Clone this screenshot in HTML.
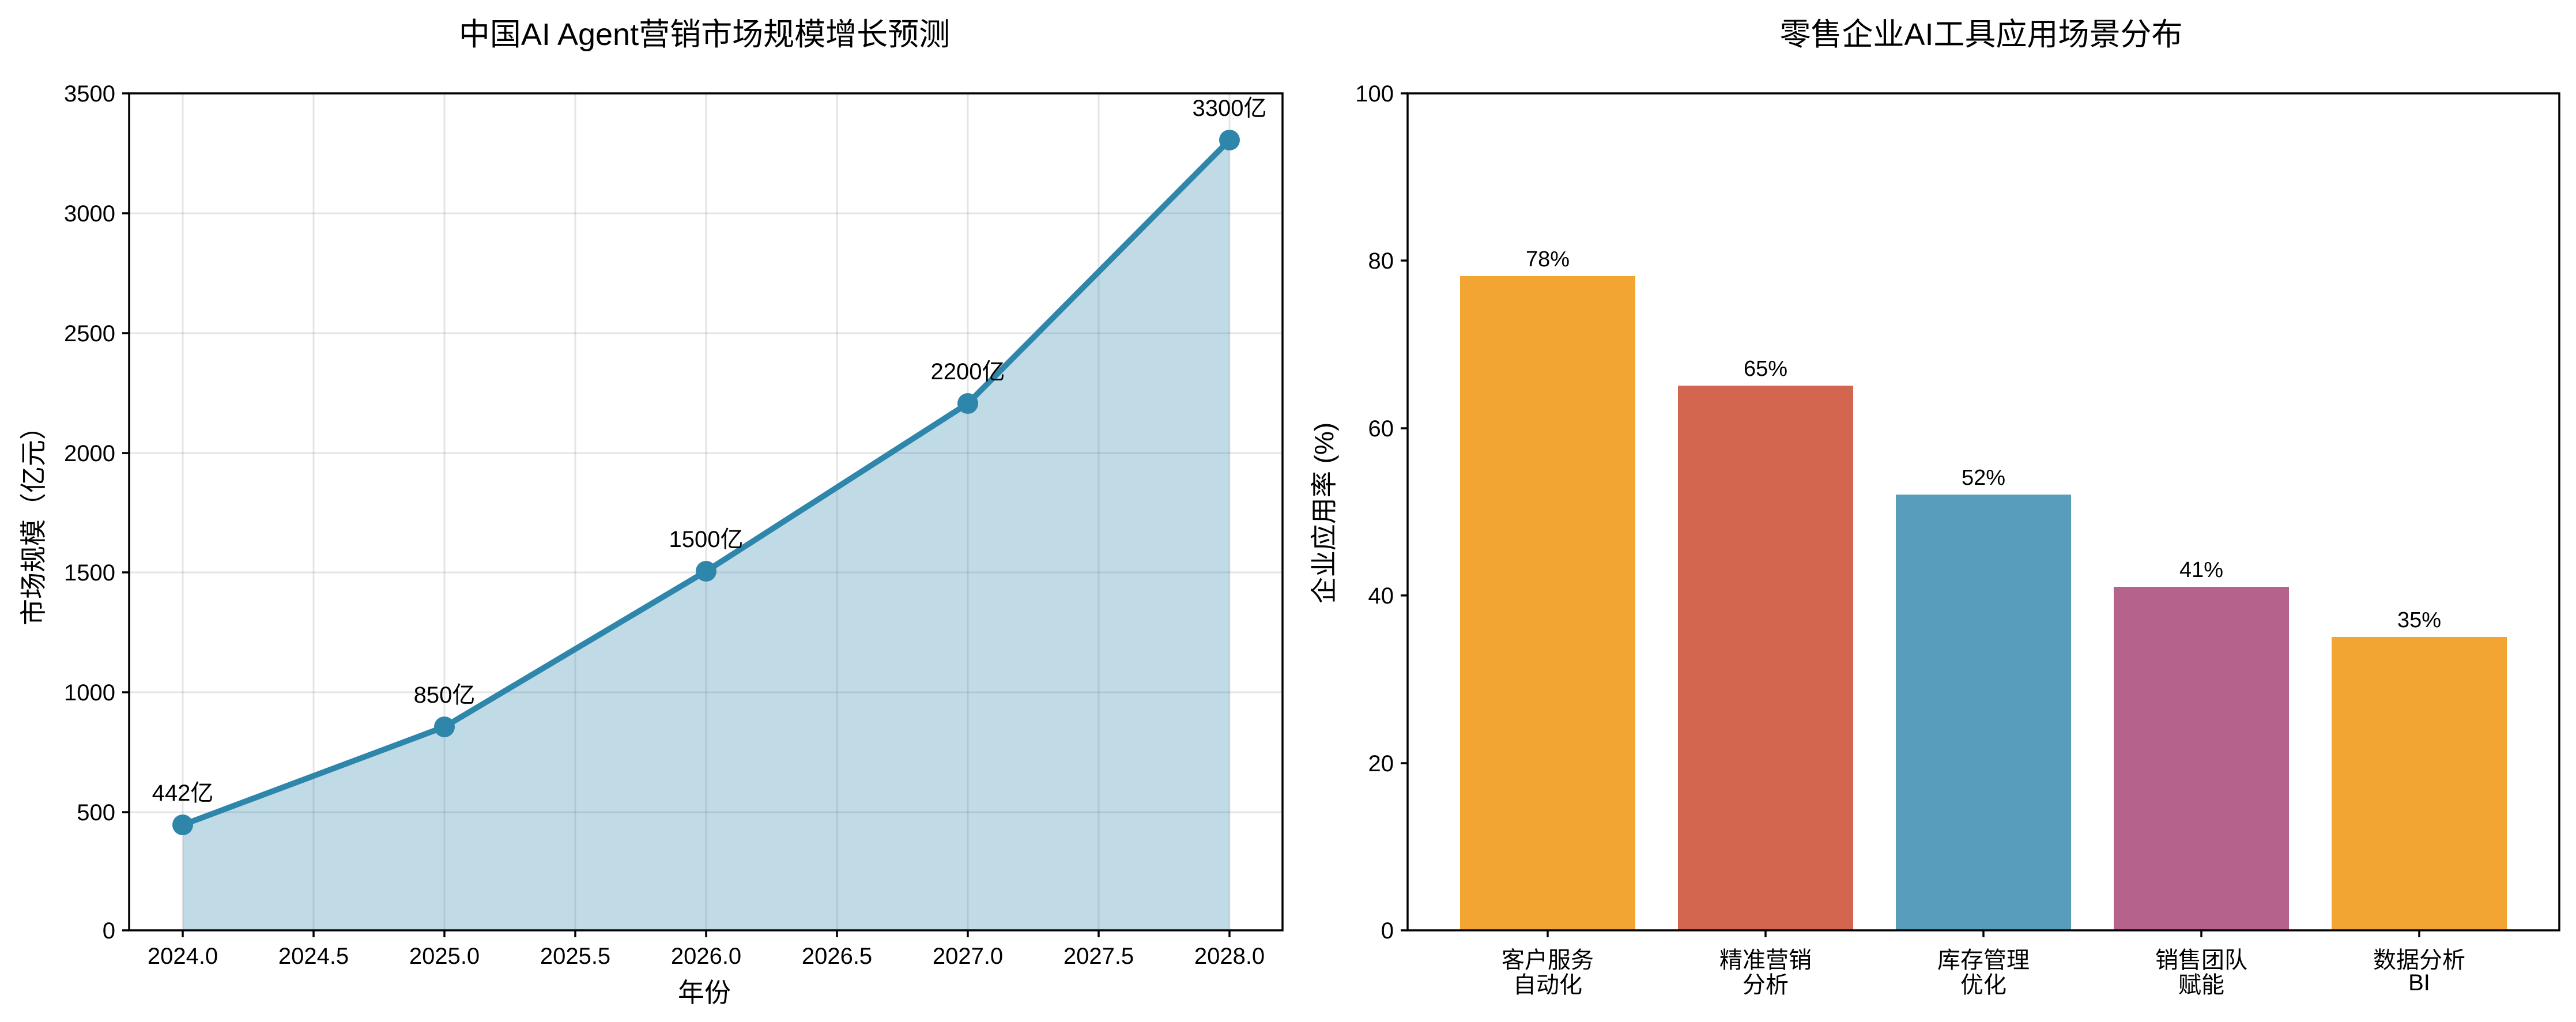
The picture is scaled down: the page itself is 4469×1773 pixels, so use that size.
<!DOCTYPE html>
<html><head><meta charset="utf-8"><style>
html,body{margin:0;padding:0;background:#fff;}
svg{display:block;font-family:"Liberation Sans","Noto Sans CJK SC",sans-serif;}
</style></head><body>
<svg width="4469" height="1773" viewBox="0 0 4469 1773" xmlns="http://www.w3.org/2000/svg">
<rect width="4469" height="1773" fill="#fff"/>
<!-- LEFT CHART -->
<text x="1222" y="78" font-size="54" text-anchor="middle">中国AI Agent营销市场规模增长预测</text>
<g stroke="#000" stroke-opacity="0.1" stroke-width="3">
<line x1="224" y1="1409" x2="2225" y2="1409"/><line x1="224" y1="1201" x2="2225" y2="1201"/>
<line x1="224" y1="993" x2="2225" y2="993"/><line x1="224" y1="786" x2="2225" y2="786"/>
<line x1="224" y1="578" x2="2225" y2="578"/><line x1="224" y1="370" x2="2225" y2="370"/>
<line x1="317" y1="162" x2="317" y2="1614"/><line x1="544" y1="162" x2="544" y2="1614"/>
<line x1="771" y1="162" x2="771" y2="1614"/><line x1="998" y1="162" x2="998" y2="1614"/>
<line x1="1225" y1="162" x2="1225" y2="1614"/><line x1="1452" y1="162" x2="1452" y2="1614"/>
<line x1="1679" y1="162" x2="1679" y2="1614"/><line x1="1906" y1="162" x2="1906" y2="1614"/>
<line x1="2133" y1="162" x2="2133" y2="1614"/>
</g>
<polygon points="317,1614 317,1431 771,1261 1225,991 1679,700 2133,243 2133,1614" fill="#2E86AB" fill-opacity="0.3"/>
<polyline points="317,1431 771,1261 1225,991 1679,700 2133,243" fill="none" stroke="#2E86AB" stroke-width="10" stroke-linejoin="round"/>
<g fill="#2E86AB">
<circle cx="317" cy="1431" r="18"/><circle cx="771" cy="1261" r="18"/><circle cx="1225" cy="991" r="18"/><circle cx="1679" cy="700" r="18"/><circle cx="2133" cy="243" r="18"/>
</g>
<g font-size="40" text-anchor="middle">
<text x="317" y="1389">442亿</text><text x="771" y="1219">850亿</text><text x="1225" y="949">1500亿</text><text x="1679" y="658">2200亿</text><text x="2133" y="201">3300亿</text>
</g>
<rect x="224" y="162" width="2001" height="1452" fill="none" stroke="#000" stroke-width="3.5"/>
<g stroke="#000" stroke-width="3.5">
<line x1="212" y1="1614" x2="224" y2="1614"/><line x1="212" y1="1409" x2="224" y2="1409"/><line x1="212" y1="1201" x2="224" y2="1201"/><line x1="212" y1="993" x2="224" y2="993"/><line x1="212" y1="786" x2="224" y2="786"/><line x1="212" y1="578" x2="224" y2="578"/><line x1="212" y1="370" x2="224" y2="370"/><line x1="212" y1="162" x2="224" y2="162"/>
<line x1="317" y1="1614" x2="317" y2="1626"/><line x1="544" y1="1614" x2="544" y2="1626"/><line x1="771" y1="1614" x2="771" y2="1626"/><line x1="998" y1="1614" x2="998" y2="1626"/><line x1="1225" y1="1614" x2="1225" y2="1626"/><line x1="1452" y1="1614" x2="1452" y2="1626"/><line x1="1679" y1="1614" x2="1679" y2="1626"/><line x1="1906" y1="1614" x2="1906" y2="1626"/><line x1="2133" y1="1614" x2="2133" y2="1626"/>
</g>
<g font-size="40" text-anchor="end">
<text x="200" y="1628">0</text><text x="200" y="1423">500</text><text x="200" y="1215">1000</text><text x="200" y="1007">1500</text><text x="200" y="800">2000</text><text x="200" y="592">2500</text><text x="200" y="384">3000</text><text x="200" y="176">3500</text>
</g>
<g font-size="40" text-anchor="middle">
<text x="317" y="1672">2024.0</text><text x="544" y="1672">2024.5</text><text x="771" y="1672">2025.0</text><text x="998" y="1672">2025.5</text><text x="1225" y="1672">2026.0</text><text x="1452" y="1672">2026.5</text><text x="1679" y="1672">2027.0</text><text x="1906" y="1672">2027.5</text><text x="2133" y="1672">2028.0</text>
</g>
<text x="1222" y="1738" font-size="46" text-anchor="middle">年份</text>
<text transform="translate(74,901) rotate(-90)" font-size="46" text-anchor="middle">市场规模（亿元）</text>

<!-- RIGHT CHART -->
<text x="3437" y="78" font-size="54" text-anchor="middle">零售企业AI工具应用场景分布</text>
<g>
<rect x="2533" y="479" width="304" height="1135" fill="#F3A534"/>
<rect x="2911" y="669" width="304" height="945" fill="#D2664E"/>
<rect x="3289" y="858" width="304" height="756" fill="#589EBC"/>
<rect x="3667" y="1018" width="304" height="596" fill="#B5628D"/>
<rect x="4045" y="1105" width="304" height="509" fill="#F3A534"/>
</g>
<g font-size="38" text-anchor="middle">
<text x="2685" y="462">78%</text><text x="3063" y="652">65%</text><text x="3441" y="841">52%</text><text x="3819" y="1001">41%</text><text x="4197" y="1088">35%</text>
</g>
<rect x="2442" y="162" width="1998" height="1452" fill="none" stroke="#000" stroke-width="3.5"/>
<g stroke="#000" stroke-width="3.5">
<line x1="2430" y1="1614" x2="2442" y2="1614"/><line x1="2430" y1="1324" x2="2442" y2="1324"/><line x1="2430" y1="1033" x2="2442" y2="1033"/><line x1="2430" y1="743" x2="2442" y2="743"/><line x1="2430" y1="452" x2="2442" y2="452"/><line x1="2430" y1="162" x2="2442" y2="162"/>
<line x1="2685" y1="1614" x2="2685" y2="1626"/><line x1="3063" y1="1614" x2="3063" y2="1626"/><line x1="3441" y1="1614" x2="3441" y2="1626"/><line x1="3819" y1="1614" x2="3819" y2="1626"/><line x1="4197" y1="1614" x2="4197" y2="1626"/>
</g>
<g font-size="40" text-anchor="end">
<text x="2418" y="1628">0</text><text x="2418" y="1338">20</text><text x="2418" y="1047">40</text><text x="2418" y="757">60</text><text x="2418" y="466">80</text><text x="2418" y="176">100</text>
</g>
<g font-size="40" text-anchor="middle">
<text x="2685" y="1679">客户服务</text><text x="2685" y="1722">自动化</text>
<text x="3063" y="1679">精准营销</text><text x="3063" y="1722">分析</text>
<text x="3441" y="1679">库存管理</text><text x="3441" y="1722">优化</text>
<text x="3819" y="1679">销售团队</text><text x="3819" y="1722">赋能</text>
<text x="4197" y="1679">数据分析</text><text x="4197" y="1718">BI</text>
</g>
<text transform="translate(2313,890) rotate(-90)" font-size="46" text-anchor="middle">企业应用率 (%)</text>
</svg>
</body></html>
